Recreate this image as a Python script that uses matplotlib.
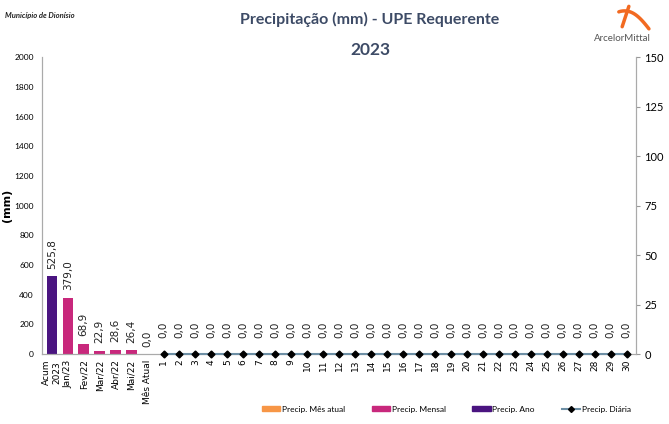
import matplotlib.pyplot as plt
import numpy as np
from matplotlib.patches import Patch
from matplotlib.lines import Line2D

# categorias do eixo x
cats = ['Acum\n2023', 'Jan/23', 'Fev/22', 'Mar/22', 'Abr/22', 'Mai/22', 'Mês Atual'] + [str(d) for d in range(1, 31)]
acum = 525.8
mensal = [379.0, 68.9, 22.9, 28.6, 26.4]
mes_atual = 0.0
diaria = [0.0] * 30

c_ano = '#4a1480'
c_mensal = '#c8287c'
c_atual = '#f79646'
c_linha = '#6d8fa5'
c_titulo = '#3d4b66'
fam = ['Lato', 'DejaVu Sans']

fig = plt.figure(figsize=(6.69, 4.24), dpi=100)
ax = fig.add_axes([0.063, 0.165, 0.888, 0.700])
x = np.arange(len(cats))

ax.bar(x[0], acum, width=0.65, color=c_ano)
ax.bar(x[1:6], mensal, width=0.65, color=c_mensal)
ax.bar(x[6], mes_atual, width=0.65, color=c_atual)

def fmt(v):
    return ('%.1f' % v).replace('.', ',')

bar_vals = [acum] + mensal + [mes_atual]
for i, v in enumerate(bar_vals):
    ax.text(x[i], v + 50, fmt(v), rotation=90, ha='center', va='bottom', fontsize=7.5, color='#222222')

ax.set_ylim(0, 2000)
ax.set_yticks(range(0, 2001, 200))
ax.set_xlim(-0.6, len(cats) - 0.4)
ax.set_xticks(x)
ax.set_xticklabels(cats, rotation=90, fontsize=6.5, va='top')
ax.tick_params(axis='x', length=0, pad=4)
ax.tick_params(axis='y', labelsize=6, length=0, pad=6)
for lb in ax.get_yticklabels():
    lb.set_family(fam)
ax.set_ylabel('(mm)', fontsize=8, fontweight='bold')
ax.yaxis.set_label_coords(-0.05, 0.5)

ax2 = ax.twinx()
xd = x[7:]
ax2.plot(xd, diaria, color=c_linha, lw=1.5, marker='D', ms=3.5, mfc='black', mec='black', zorder=3, clip_on=False)
for xi, v in zip(xd, diaria):
    ax2.text(xi, v + 8, fmt(v), rotation=90, ha='center', va='bottom', fontsize=7.5, color='#222222')
ax2.set_ylim(0, 150)
ax2.set_yticks(range(0, 151, 25))
ax2.tick_params(axis='y', labelsize=8, length=3, color='#999999', pad=3)
for lb in ax2.get_yticklabels():
    lb.set_family(fam)

for a in (ax, ax2):
    a.spines['top'].set_visible(False)
    for s in ['left', 'right', 'bottom']:
        a.spines[s].set_color('#aaaaaa')
        a.spines[s].set_linewidth(0.8)

# titulo
fig.text(0.553, 0.953, 'Precipitação (mm) - UPE Requerente', ha='center', va='center',
         fontsize=11.5, fontweight='bold', color=c_titulo, family=fam)
fig.text(0.553, 0.882, '2023', ha='center', va='center',
         fontsize=12.5, fontweight='bold', color=c_titulo, family=fam)
fig.text(0.008, 0.963, 'Município de Dionísio', ha='left', va='center', fontsize=5.5,
         style='italic', fontweight='bold', color='#222222', family=fam)

# logo
fig.text(0.93, 0.91, 'ArcelorMittal', ha='center', va='center', fontsize=7,
         color='#555555', family=fam)
t = np.linspace(0, 1, 30)
fig.add_artist(Line2D(0.925 + 0.045 * t, 0.972 - 0.04 * t ** 1.5 + 0.01 * np.sin(t * np.pi),
                      transform=fig.transFigure, color='#f26a21', lw=2.5, solid_capstyle='round'))
fig.add_artist(Line2D(0.94 - 0.01 * t, 0.985 - 0.048 * t,
                      transform=fig.transFigure, color='#f26a21', lw=2.5, solid_capstyle='round'))

handles = [Patch(color=c_atual), Patch(color=c_mensal), Patch(color=c_ano),
           Line2D([0], [0], color=c_linha, lw=1.5, marker='D', ms=3, mfc='black', mec='black')]
labels = ['Precip. Mês atual', 'Precip. Mensal', 'Precip. Ano', 'Precip. Diária']
fig.legend(handles, labels, loc='center', bbox_to_anchor=(0.667, 0.035), ncol=4, frameon=False,
           columnspacing=3.2, handlelength=2.2, handleheight=0.6, handletextpad=0.2,
           prop={'family': fam, 'size': 6})

fig.savefig('out.png', dpi=100)
